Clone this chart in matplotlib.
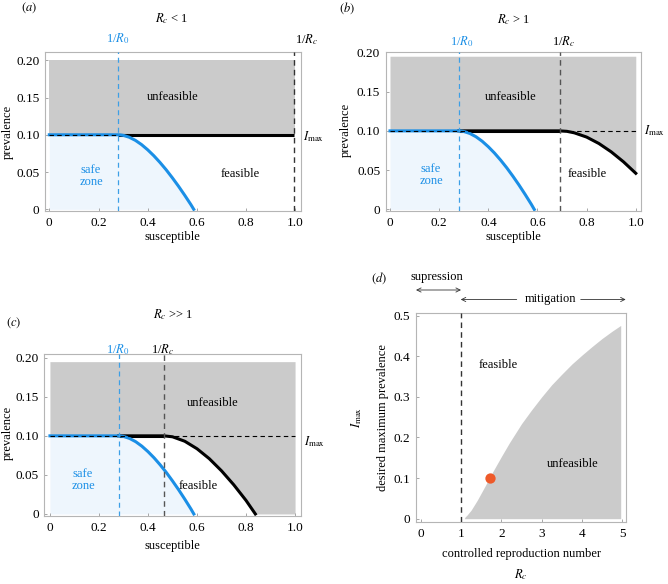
import matplotlib
matplotlib.use("Agg")
import matplotlib.pyplot as plt
from matplotlib.patches import FancyArrowPatch

plt.rcParams['font.family'] = ['Liberation Serif', 'DejaVu Serif']
plt.rcParams['mathtext.fontset'] = 'stix'

# ---------------- data ----------------
imax = 0.10
inv_R0 = 0.28
inv_Rc = [1.0, 0.69, 0.465]          # panels a, b, c

# safe-zone boundary (blue)
S_blue = [0.28, 0.29, 0.30, 0.325, 0.35, 0.375, 0.40, 0.425, 0.45, 0.475, 0.50, 0.525, 0.55, 0.575, 0.587]
I_blue = [0.100, 0.0998, 0.0993, 0.0967, 0.0925, 0.0868, 0.0798, 0.0718, 0.0628, 0.0530, 0.0423, 0.0310, 0.0190, 0.0065, 0.0]

# feasibility boundary panel (b)
S_b = [0.69, 0.72, 0.75, 0.80, 0.85, 0.90, 0.95, 1.00]
I_b = [0.100, 0.0994, 0.0975, 0.0921, 0.0839, 0.0733, 0.0606, 0.0460]

# feasibility boundary panel (c)
S_c = [0.465, 0.50, 0.55, 0.60, 0.65, 0.70, 0.75, 0.80, 0.838]
I_c = [0.100, 0.0988, 0.0931, 0.0835, 0.0708, 0.0552, 0.0373, 0.0173, 0.0]

# panel (d) boundary between feasible / unfeasible
Rc_bound = [1.08, 1.10, 1.15, 1.20, 1.25, 1.3, 1.4, 1.5, 1.6, 1.75, 1.8, 2.0, 2.2, 2.5, 2.75,
            3.0, 3.25, 3.5, 3.75, 4.0, 4.25, 4.5, 4.75, 4.96]
Imax_bound = [0.0, 0.004, 0.009, 0.015, 0.021, 0.029, 0.045, 0.063, 0.081, 0.109, 0.118, 0.153,
              0.187, 0.234, 0.268, 0.300, 0.330, 0.356, 0.381, 0.403, 0.424, 0.444, 0.462, 0.476]
dot_Rc, dot_I = 1.72, 0.10

x_ticks = [0, 0.2, 0.4, 0.6, 0.8, 1.0]
x_ticklabels = ["0", "0.2", "0.4", "0.6", "0.8", "1.0"]
y_ticks = [0, 0.05, 0.10, 0.15, 0.20]
y_ticklabels = ["0", "0.05", "0.10", "0.15", "0.20"]
d_xticks = [0, 1, 2, 3, 4, 5]
d_yticks = [0, 0.1, 0.2, 0.3, 0.4, 0.5]
d_yticklabels = ["0", "0.1", "0.2", "0.3", "0.4", "0.5"]

# ---------------- style ----------------
W, H = 668, 584
BLUE = '#1b8fe6'
BLUE_D = '#3d9fe6'
LBLUE = '#eef6fd'
GRAY = '#cbcbcb'
FRAME = '#b5b5b5'
ORANGE = '#ee5a2a'
FS = 9
TFS = 9.5

fig = plt.figure(figsize=(W / 100, H / 100), dpi=100)


def P(x, y):
    return (x / W, 1 - y / H)


def add_ax(l, r, t, b):
    ax = fig.add_axes([l / W, 1 - b / H, (r - l) / W, (b - t) / H])
    for s in ax.spines.values():
        s.set_color(FRAME)
        s.set_linewidth(0.8)
    ax.tick_params(direction='in', length=2.5, width=0.6, color='#999999',
                   labelsize=TFS, pad=4, top=False, right=False)
    return ax


def T(x, y, s, **kw):
    kw.setdefault('fontsize', FS)
    kw.setdefault('ha', 'center')
    kw.setdefault('va', 'center')
    fig.text(*P(x, y), s, **kw)


def sir_panel(ax, xl, yl, rc_inv, Sb, Ib, gray_top):
    ax.set_xlim(*xl)
    ax.set_ylim(*yl)
    # unfeasible region
    if Sb is None:
        ax.fill_between([0, 1.0], imax, gray_top, color=GRAY, lw=0, zorder=1)
    else:
        xs = [0] + list(Sb) + ([1.0] if Sb[-1] < 1.0 else [])
        ys = [imax] + list(Ib) + ([0] if Sb[-1] < 1.0 else [])
        ax.fill_between(xs, ys, gray_top, color=GRAY, lw=0, zorder=1)
    # safe zone
    ax.fill_between([0] + S_blue, 0, [imax] + I_blue, color=LBLUE, lw=0, zorder=1)
    # black feasibility boundary
    plat_end = min(rc_inv, 0.995)
    ax.plot([inv_R0, plat_end], [imax, imax], color='black', lw=2.2, zorder=3,
            solid_capstyle='butt')
    if Sb is not None:
        ax.plot([inv_R0] + list(Sb), [imax] + list(Ib), color='black', lw=2.2, zorder=3)
    # blue curve
    ax.plot([0] + S_blue, [imax] + I_blue, color=BLUE, lw=2.2, zorder=4)
    # dashed Imax
    end = 1.0 if Sb is not None else inv_R0
    ax.plot([0, end], [imax, imax], color='black', lw=0.8, ls=(0, (4, 3)), zorder=5)
    # vertical dashed lines
    ax.axvline(inv_R0, color=BLUE_D, lw=0.9, ls=(0, (4, 3)), zorder=6)
    ax.axvline(min(rc_inv, 0.995), color='#333333' if rc_inv >= 1 else '#555555',
               lw=1.0, ls=(0, (4, 3)), zorder=6)
    ax.set_xticks(x_ticks, x_ticklabels)
    ax.set_yticks(y_ticks, y_ticklabels)


# ---- panel (a)
axa = add_ax(45, 301, 52, 211)
sir_panel(axa, (-0.0175, 1.023), (-0.0023, 0.2111), inv_Rc[0], None, None, 0.20)

# ---- panel (b)
axb = add_ax(385.7, 640.7, 52, 211)
sir_panel(axb, (-0.0175, 1.020), (-0.002, 0.2004), inv_Rc[1], S_b, I_b, 0.195)

# ---- panel (c)
axc = add_ax(44.3, 300.7, 354.3, 516)
sir_panel(axc, (-0.023, 1.023), (-0.0026, 0.2044), inv_Rc[2], S_c, I_c, 0.195)

# ---- panel (d)
axd = add_ax(415.7, 625.7, 313.3, 522.3)
axd.set_xlim(-0.124, 5.084)
axd.set_ylim(-0.0089, 0.5059)
axd.fill_between(Rc_bound, 0, Imax_bound, color=GRAY, lw=0, zorder=1)
axd.axvline(1.0, color='#333333', lw=1.0, ls=(0, (4, 3)), zorder=3)
axd.scatter([dot_Rc], [dot_I], s=55, color=ORANGE, zorder=5, lw=0)
axd.set_xticks(d_xticks, [str(v) for v in d_xticks])
axd.set_yticks(d_yticks, d_yticklabels)

# ---------------- texts ----------------
# (a)
T(29, 8, '$(a)$')
T(172, 19, r'$R_c$ < 1')
T(118, 39, r'1/$R_0$', color=BLUE)
T(307, 40, r'1/$R_c$')
T(314, 137, r'$I_{\mathrm{max}}$')
T(173, 97, 'unfeasible')
T(240, 174, 'feasible')
T(91, 176, 'safe\nzone', color=BLUE, linespacing=1.1)
T(8, 132, 'prevalence', rotation=90)
T(172, 237, 'susceptible')

# (b)
T(347, 8, '$(b)$')
T(514, 20, r'$R_c$ > 1')
T(462, 42, r'1/$R_0$', color=BLUE)
T(564, 42, r'1/$R_c$')
T(655, 131, r'$I_{\mathrm{max}}$')
T(511, 97, 'unfeasible')
T(587, 174, 'feasible')
T(431, 175, 'safe\nzone', color=BLUE, linespacing=1.1)
T(346, 130, 'prevalence', rotation=90)
T(513, 237, 'susceptible')

# (c)
T(14, 323, '$(c)$')
T(173, 315, r'$R_c$ >> 1')
T(118, 350, r'1/$R_0$', color=BLUE)
T(163, 350, r'1/$R_c$')
T(315, 442, r'$I_{\mathrm{max}}$')
T(213, 403, 'unfeasible')
T(198, 486, 'feasible')
T(83, 480, 'safe\nzone', color=BLUE, linespacing=1.1)
T(8, 433, 'prevalence', rotation=90)
T(172, 546, 'susceptible')

# (d)
T(379, 278, '$(d)$')
T(437, 277, 'supression')
T(550, 299, 'mitigation')
T(498, 365, 'feasible')
T(573, 464, 'unfeasible')
T(383, 418, 'desired maximum prevalence', rotation=90)
T(357, 417, r'$I_{\mathrm{max}}$', rotation=90)
T(521, 554, 'controlled reproduction number')
T(521, 575, r'$R_c$')

for (x0, y0), (x1, y1), st in [((416, 290), (461, 290), '<->'),
                                ((516.7, 299.5), (460.7, 299.5), '->'),
                                ((580.7, 299.5), (625.7, 299.5), '->')]:
    fig.add_artist(FancyArrowPatch(P(x0, y0), P(x1, y1),
                                   arrowstyle=st + ',head_length=3,head_width=1.5',
                                   lw=0.6, color='#333333', transform=fig.transFigure,
                                   shrinkA=0, shrinkB=0))

fig.savefig('out.png', dpi=100)
